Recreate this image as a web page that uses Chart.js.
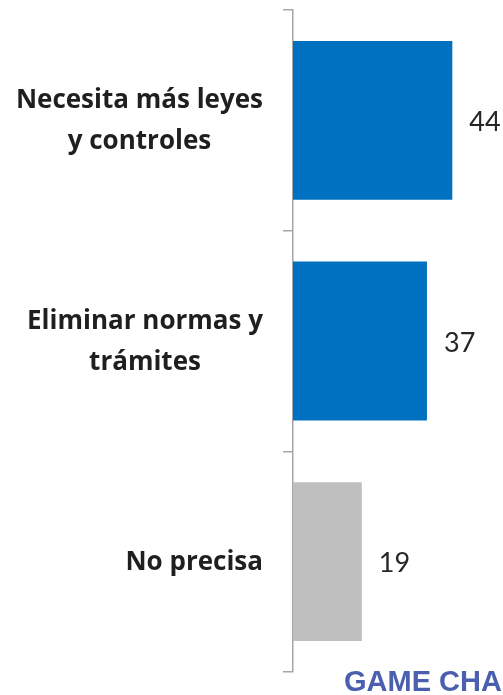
<!DOCTYPE html>
<html>
<head>
<meta charset="utf-8">
<script src="https://cdn.jsdelivr.net/npm/chart.js@4/dist/chart.umd.min.js"></script>
<style>
  html, body { margin: 0; padding: 0; background: #fff; }
  #wrap { position: relative; width: 503px; height: 695px; overflow: hidden; }
  #mark {
    position: absolute; left: 344px; top: 665px;
    font-family: "Liberation Sans", Arial, sans-serif; font-weight: bold;
    font-size: 29px; color: #4a5fae; white-space: nowrap;
  }
</style>
</head>
<body>
<div id="wrap">
  <canvas id="chart" width="503" height="695"></canvas>
  <div id="mark">GAME CHANGERS</div>
</div>
<script>
// data
const categories = [
  ["Necesita más leyes", "y controles"],
  ["Eliminar normas y", "trámites"],
  ["No precisa"]
];
const values = [44, 37, 19];
const barColors = ["#0070C0", "#0070C0", "#BFBFBF"];

// category labels: each block right aligned, lines centred inside it
const categoryLabels = {
  id: "categoryLabels",
  afterDraw(chart) {
    const ctx = chart.ctx;
    const yScale = chart.scales.y;
    const right = yScale.right - 30;
    const lineH = 41;
    ctx.save();
    ctx.font = "bold 26px 'Open Sans'";
    ctx.fillStyle = "#1f1f1f";
    ctx.textAlign = "center";
    ctx.textBaseline = "middle";
    categories.forEach(function (lines, i) {
      const yMid = yScale.getPixelForTick(i);
      const w = Math.max.apply(null, lines.map(function (l) { return ctx.measureText(l).width; }));
      const cx = right - w / 2;
      const y0 = yMid - (lines.length - 1) * lineH / 2;
      lines.forEach(function (l, j) {
        ctx.fillText(l, cx, y0 + j * lineH + 1);
      });
    });
    ctx.restore();
  }
};

// value labels to the right of each bar
const valueLabels = {
  id: "valueLabels",
  afterDatasetsDraw(chart) {
    const ctx = chart.ctx;
    const meta = chart.getDatasetMeta(0);
    ctx.save();
    ctx.font = "27px Lato";
    ctx.fillStyle = "#262626";
    ctx.textAlign = "left";
    ctx.textBaseline = "middle";
    meta.data.forEach(function (bar, i) {
      ctx.fillText(values[i], bar.x + 17, bar.y + 2);
    });
    ctx.restore();
  }
};

new Chart(document.getElementById("chart"), {
  type: "bar",
  data: {
    labels: categories,
    datasets: [{
      data: values,
      backgroundColor: barColors,
      borderWidth: 0,
      categoryPercentage: 0.72,
      barPercentage: 1
    }]
  },
  options: {
    indexAxis: "y",
    responsive: false,
    animation: false,
    layout: { padding: { top: 10, bottom: 23, left: 0, right: 0 } },
    plugins: {
      legend: { display: false },
      tooltip: { enabled: false }
    },
    scales: {
      x: {
        display: false,
        min: 0,
        max: 58
      },
      y: {
        afterFit: function (scale) {
          scale.width = 293;
          scale.paddingTop = 0;
          scale.paddingBottom = 0;
        },
        border: { color: "#a6a6a6", width: 1.5 },
        grid: {
          offset: true,
          drawOnChartArea: false,
          tickLength: 10,
          color: "#a6a6a6",
          lineWidth: 1.5
        },
        ticks: { display: false }
      }
    }
  },
  plugins: [valueLabels, categoryLabels]
});
</script>
</body>
</html>
